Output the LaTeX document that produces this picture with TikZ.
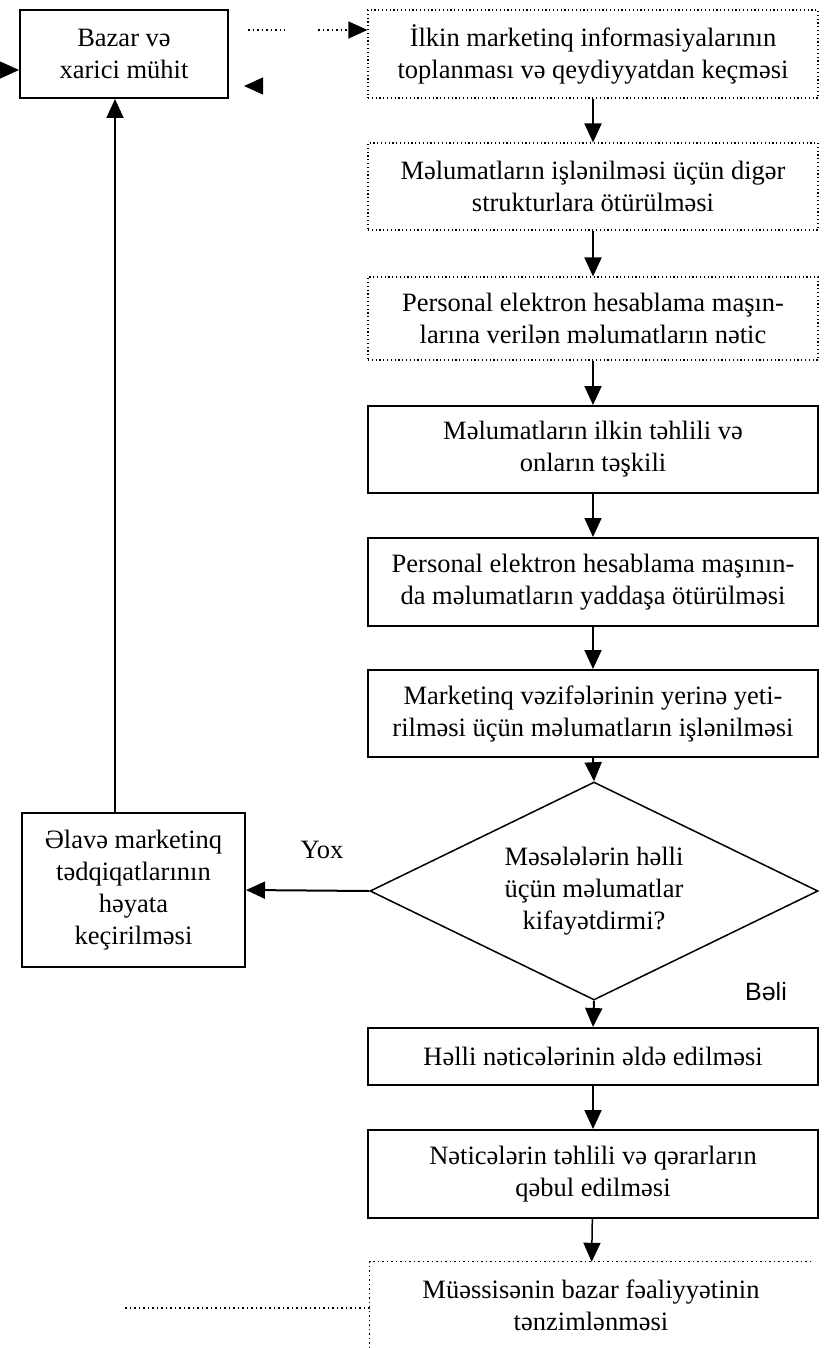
\documentclass[tikz,border=0pt]{standalone}
\usepackage{fontspec}
\setmainfont{Liberation Serif}
\newfontfamily\labsans{Liberation Sans}
\usetikzlibrary{shapes.geometric,arrows.meta,calc}
\begin{document}
\begin{tikzpicture}[x=1pt,y=-1pt,
  txt/.style={font=\fontsize{26.5}{32}\selectfont},
  box/.style={txt, draw, line width=2pt, minimum width=450pt, align=center, inner sep=0pt},
  dbox/.style={box, line width=1.1pt, dash pattern=on 1.2pt off 2.6pt},
  dline/.style={line width=1.1pt, dash pattern=on 1.5pt off 3pt},
  tip/.style={-{Triangle[length=19pt,width=17pt]}},
  arr/.style={line width=2pt, tip},
]
\useasboundingbox (0,0) rectangle (832,1348);

\node[box, minimum width=208pt, minimum height=88pt] (bazar) at (124,54) {Bazar və\\xarici mühit};

\node[dbox, minimum height=88pt] (b1) at (593,54) {İlkin marketinq informasiyalarının\\toplanması və qeydiyyatdan keçməsi};
\node[dbox, minimum height=87pt] (b2) at (593,186.5) {Məlumatların işlənilməsi üçün digər\\strukturlara ötürülməsi};
\node[dbox, minimum height=83pt] (b3) at (593,318.5) {Personal elektron hesablama maşın-\\larına verilən məlumatların nətic};
\node[box, minimum height=87pt] (b4) at (593,449.5) {Məlumatların ilkin təhlili və\\onların təşkili};
\node[box, minimum height=88pt] (b5) at (593,582) {Personal elektron hesablama maşının-\\da məlumatların yaddaşa ötürülməsi};
\node[box, minimum height=87pt] (b6) at (593,713.5) {Marketinq vəzifələrinin yerinə yeti-\\rilməsi üçün məlumatların işlənilməsi};
\node[diamond, draw, line width=1.5pt, inner sep=0pt, minimum width=448pt, minimum height=218pt] (d) at (594,891) {};
\node[txt, align=center, inner sep=0pt] (dt) at (d.center) {Məsələlərin həlli\\üçün məlumatlar\\kifayətdirmi?};
\node[box, minimum height=57pt] (b7) at (593,1056.5) {Həlli nəticələrinin əldə edilməsi};
\node[box, minimum height=88pt] (b8) at (593,1174) {Nəticələrin təhlili və qərarların\\qəbul edilməsi};
\node[txt, align=center, inner sep=0pt, minimum width=442pt, minimum height=86pt] (b9) at (591,1305) {Müəssisənin bazar fəaliyyətinin\\tənzimlənməsi};
\draw[dline] (b9.south west) -- (b9.north west) -- (b9.north east);

\node[box, minimum width=223pt, minimum height=154pt] (ab) at (133.5,890) {Əlavə marketinq\\tədqiqatlarının\\həyata\\keçirilməsi};

\node[txt] (yox) at (322,850) {Yox};
\node[font=\labsans\fontsize{25}{30}\selectfont] (beli) at (766,992) {Bəli};

% connectors
\draw[arr] (b1) -- (b2);
\draw[arr] (b2) -- (b3);
\draw[arr] (b3) -- (b4);
\draw[line width=1.5pt, tip] (b4) -- (b5);
\draw[arr] (b5) -- (b6);
\draw[arr] (b6.south) -- (d.north);
\draw[arr] (d.south) -- (b7.north);
\draw[arr] (b7) -- (b8);
\draw[line width=1.5pt, tip] (b8) -- (b9);
\draw[arr] (d.west) -- (ab.east);

\coordinate (vx) at (115,0);
\draw[arr] (ab.north -| vx) -- (bazar.south -| vx);

% dotted feedback lines
\coordinate (s1) at (248,30);
\draw[dline] (s1) -- (285,30);
\draw[dline, tip] (318,30) -- (b1.west |- s1);
\coordinate (c1) at (125,1308);
\draw[dline] (b9.west |- c1) -- (c1);

% stray arrowheads at the market box
\coordinate (la) at (3,70);
\draw[line width=1pt, tip] (la) -- (bazar.west |- la);
\coordinate (ra) at (262,86);
\draw[line width=1pt, tip] (ra) -- (244,86);
\end{tikzpicture}
\end{document}
